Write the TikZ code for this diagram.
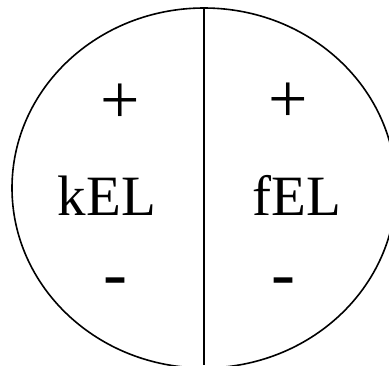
\documentclass[tikz,border=0pt]{standalone}
\usepackage{fontspec}
\setmainfont{Liberation Serif}

\begin{document}
\begin{tikzpicture}[
    x=1pt, y=-1pt,
    bignode/.style={inner sep=0pt, anchor=base, font=\fontsize{57}{68}\selectfont},
    plusnode/.style={inner sep=0pt, anchor=base, font=\fontsize{70}{84}\selectfont},
    minusnode/.style={inner sep=0pt, anchor=base, font=\fontsize{72}{86}\selectfont},
    myline/.style={line width=1.6pt}
]
\useasboundingbox (0,0) rectangle (389,365);
\begin{scope}
\clip (0,0) rectangle (389,365);
\draw[myline] (204,188) ellipse [x radius=192, y radius=180];
\draw[myline] (204,8) -- (204,365);
\end{scope}

\node[plusnode] (kplus) at (120,123) {+};
\node[bignode] (kel) at (107,215) {kEL};
\node[minusnode] (kminus) at (115,297) {-};
\node[plusnode] (fplus) at (288,122) {+};
\node[bignode] (fel) at (297,215) {fEL};
\node[minusnode] (fminus) at (283,297) {-};
\end{tikzpicture}
\end{document}
